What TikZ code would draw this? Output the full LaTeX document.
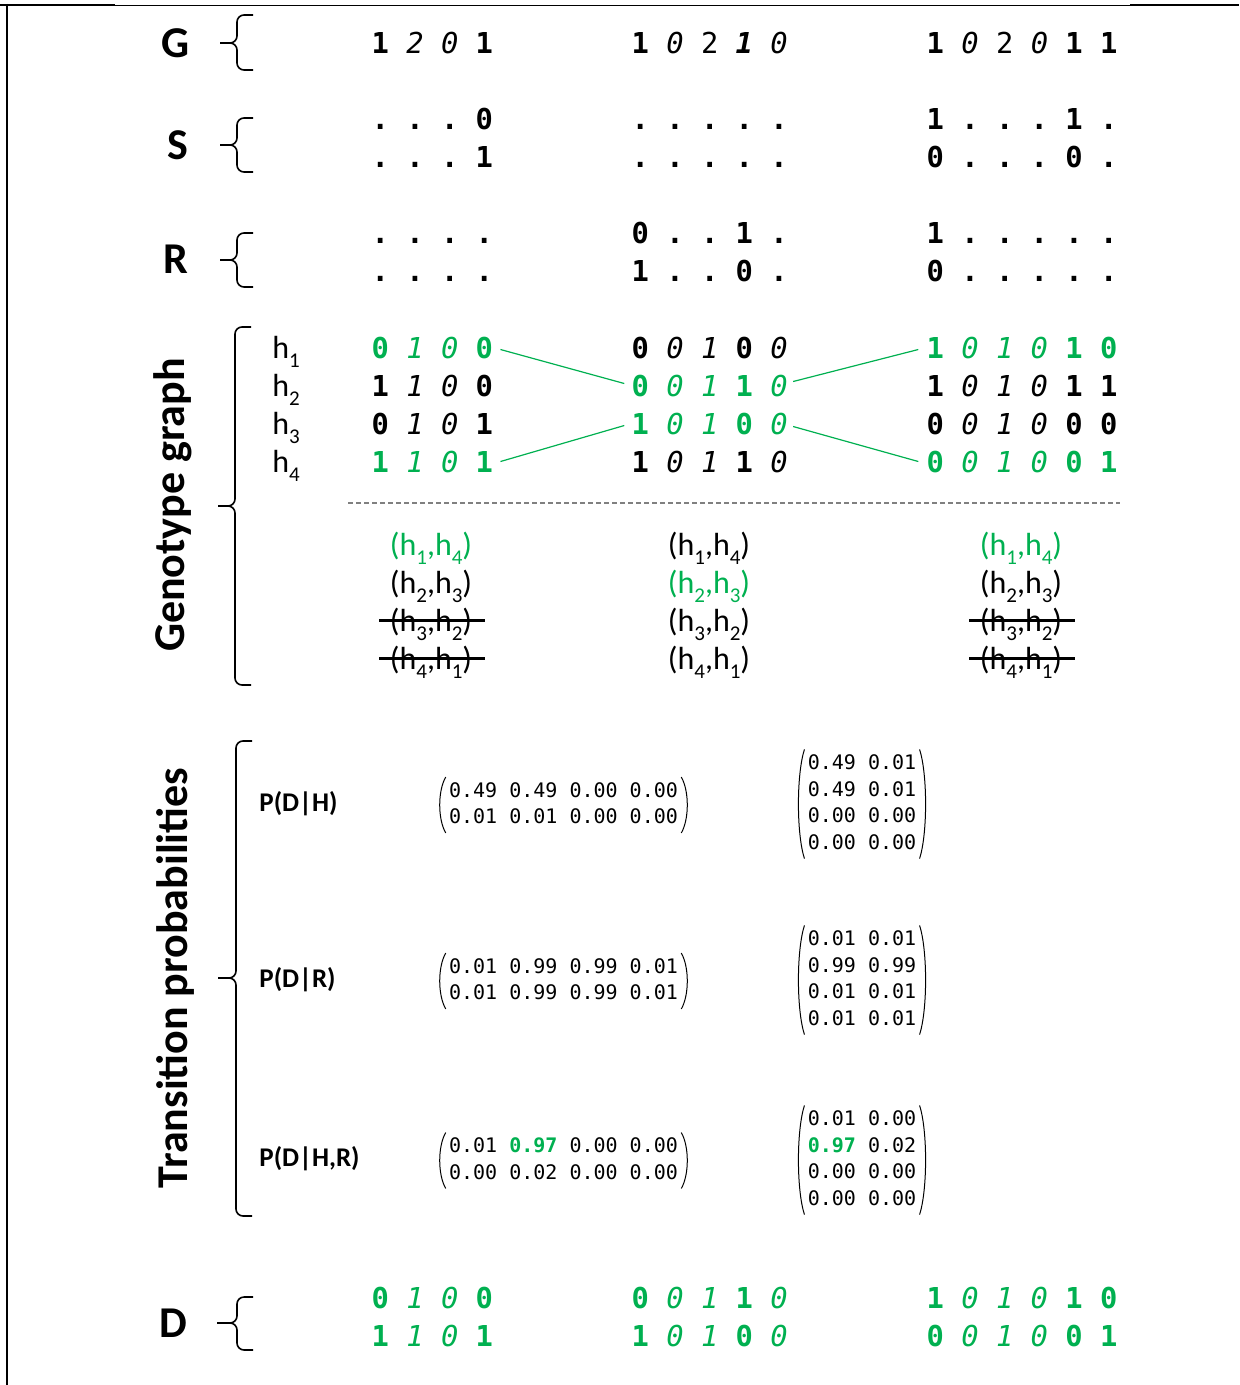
\documentclass[tikz,border=0pt]{standalone}
\usepackage{fontspec}
\setmainfont{Carlito}
\newfontfamily\monof{DejaVu Sans Mono}
\usetikzlibrary{calc}
\definecolor{grn}{HTML}{00B050}
\newcommand\dB[1]{{\bfseries\upshape #1}}
\newcommand\dI[1]{{\mdseries\itshape #1}}
\newcommand\dR[1]{{\mdseries\upshape #1}}
\newcommand\dX[1]{{\bfseries\itshape #1}}
\newcommand\sbs[1]{\raisebox{-0.3em}{\fontsize{10.5pt}{10pt}\selectfont #1}}
\newcommand\brc[5]{%
  \draw[bracepath] (#1+16,#2) -- (#1,#2) -- (#1,#3) -- (#5,#3);
  \draw[bracepath] (#1+16,#4) -- (#1,#4) -- (#1,#3) -- (#5,#3);}
\newcommand\lparen[2]{\draw[parpath] ($(#1.north west)+(-3,-1)$) .. controls +(-8,#2) and +(-8,-#2) .. ($(#1.south west)+(-3,1)$);
  \draw[parpath] ($(#1.north east)+(3,-1)$) .. controls +(8,#2) and +(8,-#2) .. ($(#1.south east)+(3,1)$);}
\begin{document}
\begin{tikzpicture}[x=0.5pt,y=-0.5pt,
  dig/.style={font=\monof\fontsize{14.4pt}{14.4pt}\selectfont\frenchspacing, anchor=base west, inner sep=0pt},
  mat/.style={font=\monof\fontsize{10pt}{13.3pt}\selectfont, inner sep=0pt, anchor=center},
  biglab/.style={font=\bfseries\fontsize{22pt}{22pt}\selectfont, inner sep=0pt},
  plab/.style={font=\bfseries\fontsize{13.5pt}{14pt}\selectfont, inner sep=0pt, anchor=west},
  hlab/.style={font=\fontsize{16pt}{16pt}\selectfont, inner sep=0pt, anchor=base west},
  pair/.style={font=\fontsize{16pt}{16pt}\selectfont, inner sep=0pt, anchor=base},
  bracepath/.style={line width=0.8pt, rounded corners=3.5pt},
  parpath/.style={line width=0.5pt},
  gline/.style={grn, line width=0.6pt},
  strike/.style={line width=1.5pt},
  sep/.style={gray, line width=0.6pt, dash pattern=on 2.5pt off 1.5pt}]
\useasboundingbox (0,0) rectangle (1239,1385);
% border
\draw[line width=1pt] (7,4) -- (7,1385);
\draw[line width=1pt] (0,5) -- (115,5);
\draw[line width=1pt] (1130,5) -- (1239,5);
\draw[line width=0.35pt] (115,5) -- (1130,5);
% left labels
\node[biglab] (Lg) at (176,43) {G};
\node[biglab] (Ls) at (178,145) {S};
\node[biglab] (Lr) at (176,259) {R};
\node[biglab] (Ld) at (173,1323) {D};
\node[biglab, rotate=90] (Lgg) at (173,505) {Genotype graph};
\node[biglab, rotate=90] (Ltp) at (175,978) {Transition probabilities};
% braces
\brc{237}{15}{43}{70}{220}
\brc{237}{118}{145}{172}{220}
\brc{237}{233}{260}{287}{220}
\brc{235}{327}{506}{685}{218}
\brc{236}{741}{978}{1216}{218}
\brc{237}{1297}{1323}{1350}{217}
% G
\node[dig] (G1) at (371.3,53.5) {\dB1 \dI2 \dI0 \dB1};
\node[dig] (G2) at (631.3,53.5) {\dB1 \dI0 \dR2 \dX1 \dI0};
\node[dig] (G3) at (926.3,53.5) {\dB1 \dI0 \dR2 \dI0 \dB1 \dB1};
% S
\node[dig] (S1a) at (371.3,130) {\dB. \dB. \dB. \dB0};
\node[dig] (S1b) at (371.3,168) {\dB. \dB. \dB. \dB1};
\node[dig] (S2a) at (631.3,130) {\dB. \dB. \dB. \dB. \dB.};
\node[dig] (S2b) at (631.3,168) {\dB. \dB. \dB. \dB. \dB.};
\node[dig] (S3a) at (926.3,130) {\dB1 \dB. \dB. \dB. \dB1 \dB.};
\node[dig] (S3b) at (926.3,168) {\dB0 \dB. \dB. \dB. \dB0 \dB.};
% R
\node[dig] (R1a) at (371.3,244) {\dB. \dB. \dB. \dB.};
\node[dig] (R1b) at (371.3,282) {\dB. \dB. \dB. \dB.};
\node[dig] (R2a) at (631.3,244) {\dB0 \dB. \dB. \dB1 \dB.};
\node[dig] (R2b) at (631.3,282) {\dB1 \dB. \dB. \dB0 \dB.};
\node[dig] (R3a) at (926.3,244) {\dB1 \dB. \dB. \dB. \dB. \dB.};
\node[dig] (R3b) at (926.3,282) {\dB0 \dB. \dB. \dB. \dB. \dB.};
% genotype graph
\node[hlab] (h1) at (272,358) {h\sbs{1}};
\node[hlab] (h2) at (272,396) {h\sbs{2}};
\node[hlab] (h3) at (272,434) {h\sbs{3}};
\node[hlab] (h4) at (272,472) {h\sbs{4}};
\node[dig, grn] (C1a) at (371.3,358) {\dB0 \dI1 \dI0 \dB0};
\node[dig] (C1b) at (371.3,396) {\dB1 \dI1 \dI0 \dB0};
\node[dig] (C1c) at (371.3,434) {\dB0 \dI1 \dI0 \dB1};
\node[dig, grn] (C1d) at (371.3,472) {\dB1 \dI1 \dI0 \dB1};
\node[dig] (C2a) at (631.3,358) {\dB0 \dI0 \dI1 \dB0 \dI0};
\node[dig, grn] (C2b) at (631.3,396) {\dB0 \dI0 \dI1 \dB1 \dI0};
\node[dig, grn] (C2c) at (631.3,434) {\dB1 \dI0 \dI1 \dB0 \dI0};
\node[dig] (C2d) at (631.3,472) {\dB1 \dI0 \dI1 \dB1 \dI0};
\node[dig, grn] (C3a) at (926.3,358) {\dB1 \dI0 \dI1 \dI0 \dB1 \dB0};
\node[dig] (C3b) at (926.3,396) {\dB1 \dI0 \dI1 \dI0 \dB1 \dB1};
\node[dig] (C3c) at (926.3,434) {\dB0 \dI0 \dI1 \dI0 \dB0 \dB0};
\node[dig, grn] (C3d) at (926.3,472) {\dB0 \dI0 \dI1 \dI0 \dB0 \dB1};
\draw[gline] ($(C1a.east)+(7,2)$) -- ($(C2b.west)+(-7,-2)$);
\draw[gline] ($(C1d.east)+(7,0)$) -- ($(C2c.west)+(-7,2)$);
\draw[gline] ($(C2b.east)+(5,-4)$) -- ($(C3a.west)+(-8,2)$);
\draw[gline] ($(C2c.east)+(5,3)$) -- ($(C3d.west)+(-8,0)$);
\coordinate (sepL) at (348,503);
\coordinate (sepR) at (1120,503);
\draw[sep] (sepL) -- (sepR);
% pairs
\node[pair, grn] (P1a) at (431,555) {(h\sbs{1},h\sbs{4})};
\node[pair] (P1b) at (431,593) {(h\sbs{2},h\sbs{3})};
\node[pair] (P1c) at (431,631) {(h\sbs{3},h\sbs{2})};
\node[pair] (P1d) at (431,669) {(h\sbs{4},h\sbs{1})};
\node[pair] (P2a) at (709,555) {(h\sbs{1},h\sbs{4})};
\node[pair, grn] (P2b) at (709,593) {(h\sbs{2},h\sbs{3})};
\node[pair] (P2c) at (709,631) {(h\sbs{3},h\sbs{2})};
\node[pair] (P2d) at (709,669) {(h\sbs{4},h\sbs{1})};
\node[pair, grn] (P3a) at (1021,555) {(h\sbs{1},h\sbs{4})};
\node[pair] (P3b) at (1021,593) {(h\sbs{2},h\sbs{3})};
\node[pair] (P3c) at (1021,631) {(h\sbs{3},h\sbs{2})};
\node[pair] (P3d) at (1021,669) {(h\sbs{4},h\sbs{1})};
\foreach \p in {P1c,P1d,P3c,P3d}{
  \draw[strike] ($(\p.base west)+(-10,-11)$) -- ($(\p.base east)+(12,-11)$);}
% transition probabilities
\node[plab] (PH) at (259,804) {P(D|H)};
\node[plab] (PR) at (259,980) {P(D|R)};
\node[plab] (PHR) at (259,1159) {P(D|H,R)};
\node[mat] (M1a) at (563.5,805) {\begin{tabular}{@{}l@{}}0.49 0.49 0.00 0.00\\0.01 0.01 0.00 0.00\end{tabular}};
\node[mat] (M1b) at (862,804) {\begin{tabular}{@{}l@{}}0.49 0.01\\0.49 0.01\\0.00 0.00\\0.00 0.00\end{tabular}};
\node[mat] (M2a) at (563.5,981) {\begin{tabular}{@{}l@{}}0.01 0.99 0.99 0.01\\0.01 0.99 0.99 0.01\end{tabular}};
\node[mat] (M2b) at (862,980) {\begin{tabular}{@{}l@{}}0.01 0.01\\0.99 0.99\\0.01 0.01\\0.01 0.01\end{tabular}};
\node[mat] (M3a) at (563.5,1160.5) {\begin{tabular}{@{}l@{}}0.01 {\color{grn}\bfseries 0.97} 0.00 0.00\\0.00 0.02 0.00 0.00\end{tabular}};
\node[mat] (M3b) at (862,1160) {\begin{tabular}{@{}l@{}}0.01 0.00\\{\color{grn}\bfseries 0.97} 0.02\\0.00 0.00\\0.00 0.00\end{tabular}};
\lparen{M1a}{14}
\lparen{M1b}{25}
\lparen{M2a}{14}
\lparen{M2b}{25}
\lparen{M3a}{14}
\lparen{M3b}{25}
% D
\node[dig, grn] (D1a) at (371.3,1308) {\dB0 \dI1 \dI0 \dB0};
\node[dig, grn] (D1b) at (371.3,1346) {\dB1 \dI1 \dI0 \dB1};
\node[dig, grn] (D2a) at (631.3,1308) {\dB0 \dI0 \dI1 \dB1 \dI0};
\node[dig, grn] (D2b) at (631.3,1346) {\dB1 \dI0 \dI1 \dB0 \dI0};
\node[dig, grn] (D3a) at (926.3,1308) {\dB1 \dI0 \dI1 \dI0 \dB1 \dB0};
\node[dig, grn] (D3b) at (926.3,1346) {\dB0 \dI0 \dI1 \dI0 \dB0 \dB1};
\end{tikzpicture}
\end{document}
